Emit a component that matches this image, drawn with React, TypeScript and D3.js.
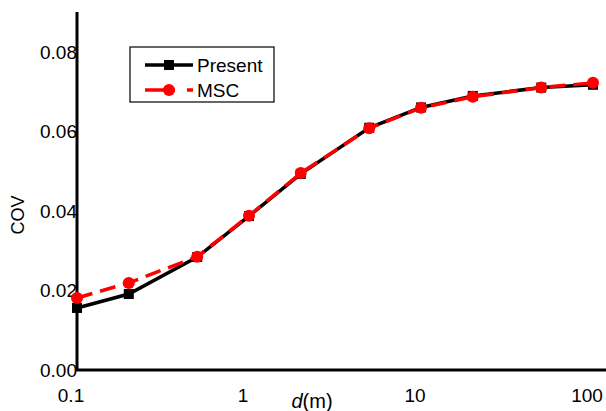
import * as d3 from "d3";
import React, { useRef, useEffect } from "react";

const distances = [0.1, 0.2, 0.5, 1, 2, 5, 10, 20, 50, 100];
const present = [0.0156, 0.0191, 0.0284, 0.0387, 0.0493, 0.0609, 0.066, 0.0689, 0.071, 0.0717];
const msc = [0.0181, 0.0219, 0.0285, 0.0388, 0.0495, 0.0608, 0.0659, 0.0687, 0.071, 0.0722];
const xTicks = [0.1, 1, 10, 100];
const yTicks = [0, 0.02, 0.04, 0.06, 0.08];

const W = 606;
const H = 411;

const App = () => {
  const ref = useRef<SVGSVGElement>(null);

  useEffect(() => {
    const svg = d3.select(ref.current);
    svg.selectAll("*").remove();

    const x = d3.scaleLog().domain([0.1, 100]).range([77, 593]);
    const y = d3.scaleLinear().domain([0, 0.09]).range([370, 12]);
    const font = "Liberation Sans, Arial, sans-serif";

    // axes (no tick marks, just the spine + labels)
    svg.append("line").attr("x1", 77).attr("x2", 77).attr("y1", 12).attr("y2", 370)
      .attr("stroke", "#000").attr("stroke-width", 3);
    svg.append("line").attr("x1", 76).attr("x2", W).attr("y1", 370).attr("y2", 370)
      .attr("stroke", "#000").attr("stroke-width", 3);

    svg.selectAll(".ytl").data(yTicks).join("text")
      .attr("x", 77).attr("y", (d) => y(d) + 7)
      .attr("text-anchor", "end").attr("font-family", font).attr("font-size", 19)
      .text((d) => d3.format(".2f")(d));

    svg.selectAll(".xtl").data(xTicks).join("text")
      .attr("x", (d) => x(d) - 6).attr("y", 402)
      .attr("text-anchor", "middle").attr("font-family", font).attr("font-size", 19)
      .text((d) => String(d));

    const xl = svg.append("text").attr("x", 312).attr("y", 408)
      .attr("text-anchor", "middle").attr("font-family", font).attr("font-size", 20);
    xl.append("tspan").attr("font-style", "italic").text("d");
    xl.append("tspan").text("(m)");

    svg.append("text").attr("transform", "translate(24,215) rotate(-90)")
      .attr("text-anchor", "middle").attr("font-family", font).attr("font-size", 18)
      .text("COV");

    const line = d3.line<number>().x((_, i) => x(distances[i])).y((d) => y(d));

    svg.append("path").attr("d", line(present)).attr("fill", "none")
      .attr("stroke", "#000").attr("stroke-width", 3.5);
    svg.selectAll(".sq").data(present).join("rect")
      .attr("x", (_, i) => x(distances[i]) - 5).attr("y", (d) => y(d) - 5)
      .attr("width", 10).attr("height", 10).attr("fill", "#000");

    svg.append("path").attr("d", line(msc)).attr("fill", "none")
      .attr("stroke", "#f00").attr("stroke-width", 3.5).attr("stroke-dasharray", "16,8");
    svg.selectAll(".ci").data(msc).join("circle")
      .attr("cx", (_, i) => x(distances[i])).attr("cy", (d) => y(d))
      .attr("r", 6).attr("fill", "#f00");

    // legend
    const lg = svg.append("g");
    lg.append("rect").attr("x", 130).attr("y", 47).attr("width", 144).attr("height", 55)
      .attr("fill", "#fff").attr("stroke", "#000").attr("stroke-width", 1.2);
    lg.append("line").attr("x1", 145).attr("x2", 193).attr("y1", 65).attr("y2", 65)
      .attr("stroke", "#000").attr("stroke-width", 3.5);
    lg.append("rect").attr("x", 164).attr("y", 60).attr("width", 10).attr("height", 10).attr("fill", "#000");
    lg.append("line").attr("x1", 145).attr("x2", 193).attr("y1", 90).attr("y2", 90)
      .attr("stroke", "#f00").attr("stroke-width", 3.5).attr("stroke-dasharray", "30,12,6");
    lg.append("circle").attr("cx", 169).attr("cy", 90).attr("r", 6).attr("fill", "#f00");
    lg.append("text").attr("x", 197).attr("y", 72).attr("font-family", font).attr("font-size", 19).text("Present");
    lg.append("text").attr("x", 197).attr("y", 97).attr("font-family", font).attr("font-size", 19).text("MSC");
  }, []);

  return (
    <svg ref={ref} width={W} height={H} style={{ position: "absolute", left: 0, top: 0, background: "#fff" }} />
  );
};

export default App;
